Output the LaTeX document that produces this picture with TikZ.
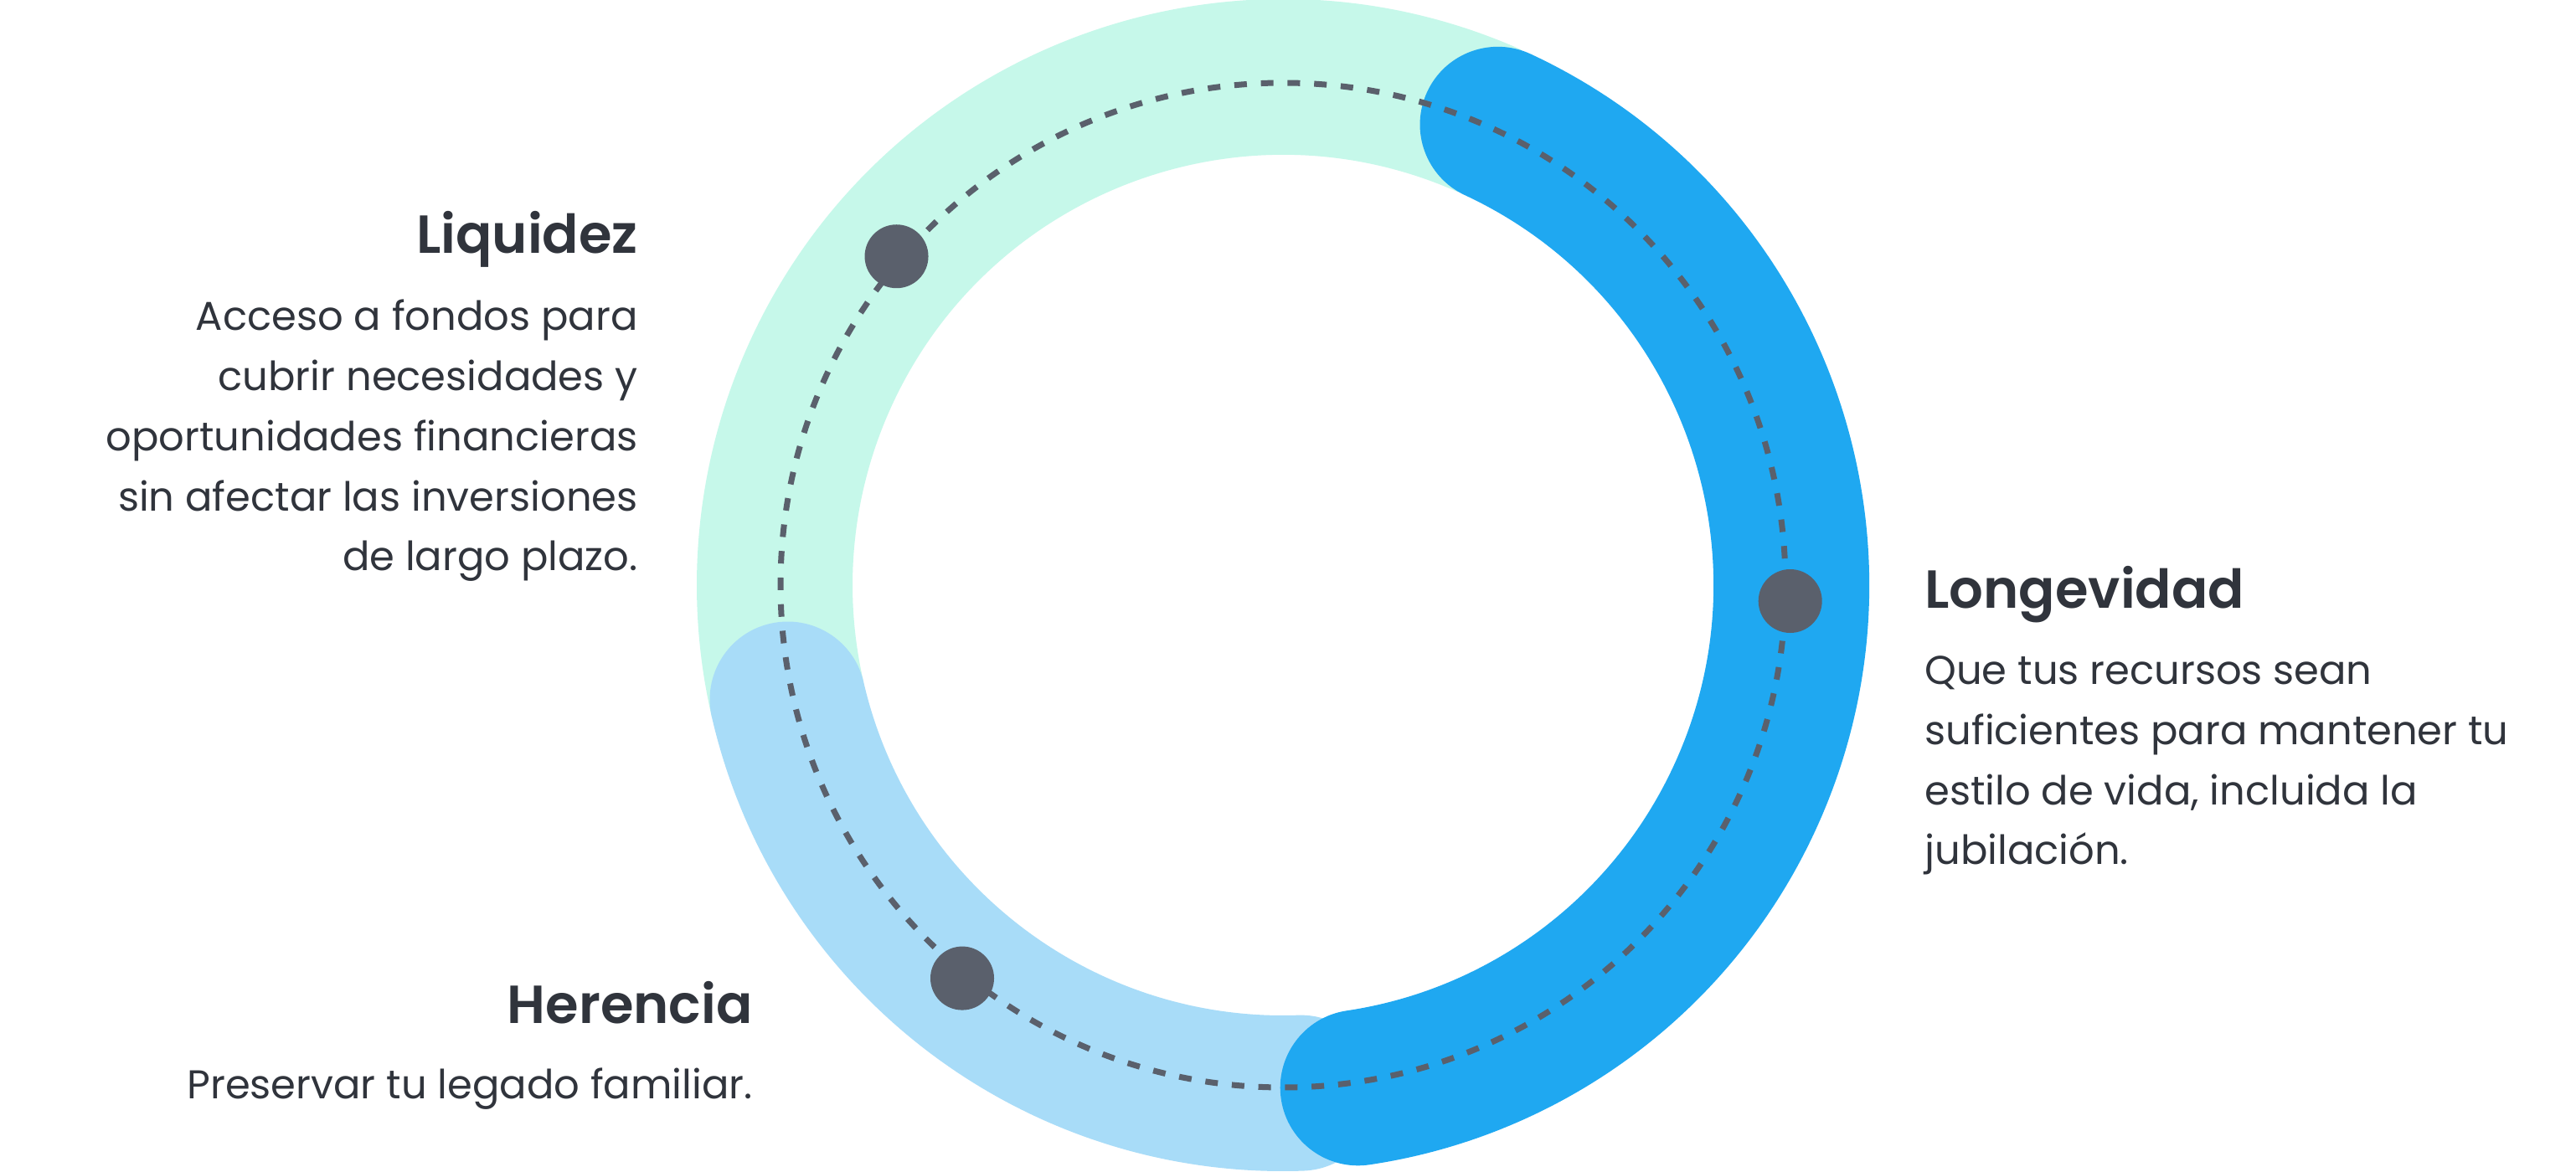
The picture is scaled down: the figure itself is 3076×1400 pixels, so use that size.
\documentclass[tikz,border=0pt]{standalone}
\usepackage{fontspec}
\setmainfont{Poppins}[BoldFont={Poppins SemiBold}]
\usepackage{xcolor}
\definecolor{mint}{HTML}{C6F8EA}
\definecolor{skyblue}{HTML}{A8DCF8}
\definecolor{deepblue}{HTML}{1FA8F1}
\definecolor{dotgray}{HTML}{5A606C}
\definecolor{inkgray}{HTML}{30343C}

\begin{document}
\begin{tikzpicture}[x=0.5pt,y=0.5pt]
				
				\tikzset{ring part/.style={
						line width=93pt,
						line cap=#1
					},
					ring part/.default=round,
					dot/.style={circle, fill=dotgray, minimum size=38pt, inner sep=0pt},
					title/.style={font=\fontsize{32}{38}\selectfont\bfseries, text=inkgray, inner sep=0pt},
					body/.style={font=\fontsize{24}{35.85}\selectfont, text=inkgray, inner sep=0pt}
				}
				\fill[white] (0,0) rectangle (3076,1400);
				\useasboundingbox (0,0) rectangle (3076,1400);
				\coordinate (center) at (1532,701);
				
				\draw[ring part=butt, mint] (center) ++(66:607) arc[start angle=66, end angle=193, radius=607];
				\draw[ring part, skyblue] (center) ++(193:607) arc[start angle=193, end angle=272, radius=607];
				\draw[ring part, deepblue] (center) ++(65:607) arc[start angle=65, end angle=-81.5, radius=607];
				
				\draw[dotgray, line width=3.5pt, dash pattern=on 7.5pt off 8.4pt] (center) circle[radius=600];
				
				\foreach \ang/\name in {139.6/liqdot, -1.8/longdot, 230.8/herdot}
					\node[dot] (\name) at ([shift={(\ang:606)}]center) {};
				
				\node[title, anchor=base east] (liqtitle) at (762,1097) {Liquidez};
				\node[body, anchor=base east, align=right] (liqtext) at ([yshift=-189.4pt]liqtitle.base east)
					{Acceso a fondos para\\cubrir necesidades y\\oportunidades financieras\\sin afectar las inversiones\\de largo plazo.};
				
				\node[title, anchor=base west] (longtitle) at (2298,673) {Longevidad};
				\node[body, anchor=base west, align=left] (longtext) at ([yshift=-153pt]longtitle.base west)
					{Que tus recursos sean\\suficientes para mantener tu\\estilo de vida, incluida la\\jubilación.};
				
				\node[title, anchor=base east] (hertitle) at (899,177) {Herencia};
				\node[body, anchor=base east] (hertext) at ([yshift=-45pt]hertitle.base east) {Preservar tu legado familiar.};
				
\end{tikzpicture}
\end{document}
